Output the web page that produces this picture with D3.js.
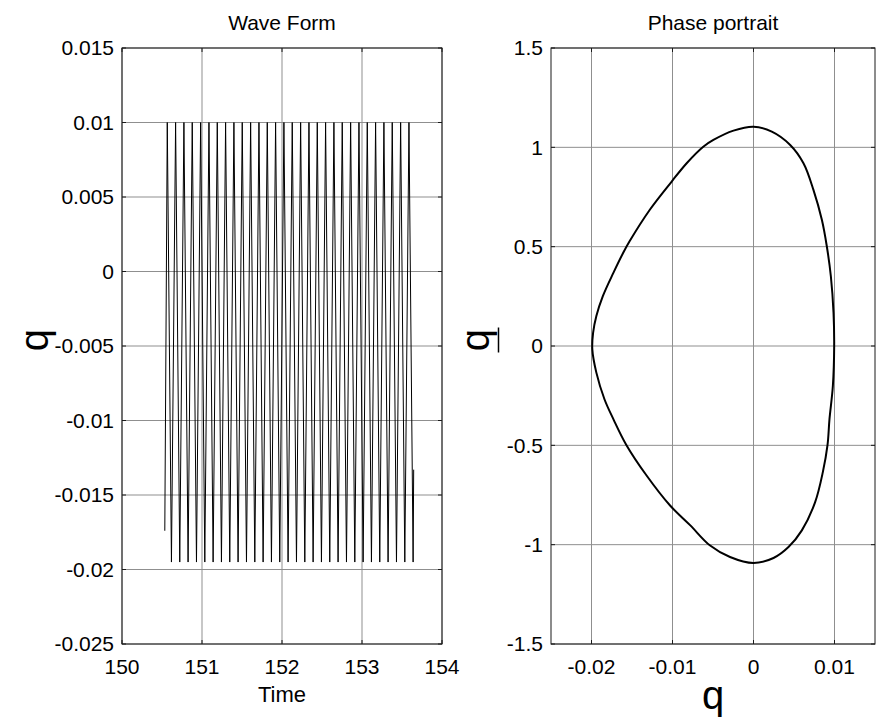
<!DOCTYPE html>
<html>
<head>
<meta charset="utf-8">
<script src="https://cdn.jsdelivr.net/npm/d3@7"></script>
<style>
  body { margin: 0; background: #fff; }
  svg { display: block; font-family: "Liberation Sans", Arial, Helvetica, sans-serif; }
</style>
</head>
<body>
<svg id="main-svg" width="884" height="725"></svg>
<script>
// ----- //
// data
// ----- //
// tick values
const waveTicksX = [150, 151, 152, 153, 154];
const waveTicksY = [0.015, 0.01, 0.005, 0, -0.005, -0.01, -0.015, -0.02, -0.025];
const phaseTicksX = [-0.02, -0.01, 0, 0.01];
const phaseTicksY = [1.5, 1, 0.5, 0, -0.5, -1, -1.5];

// wave form: times of the maxima / minima of q
const peakTimes = [150.566, 150.670, 150.774, 150.878, 150.983, 151.087, 151.191, 151.295, 151.399, 151.503,
                   151.608, 151.712, 151.816, 151.920, 152.024, 152.128, 152.233, 152.337, 152.441, 152.545,
                   152.649, 152.753, 152.858, 152.962, 153.066, 153.170, 153.274, 153.378, 153.483, 153.587];
const troughTimes = [150.618, 150.722, 150.826, 150.931, 151.035, 151.139, 151.243, 151.347, 151.451, 151.556,
                     151.660, 151.764, 151.868, 151.972, 152.076, 152.181, 152.285, 152.389, 152.493, 152.597,
                     152.701, 152.806, 152.910, 153.014, 153.118, 153.222, 153.326, 153.431, 153.535, 153.639];
const peakQ = 0.01;
const troughQ = -0.0195;
const waveStart = { t: 150.535, q: -0.0174 };
const waveEnd = { t: 153.646, q: -0.0133 };

// phase portrait (q, dq/dt), clockwise from the top
const phaseQ = [0, 0.00226, 0.00453, 0.00617, 0.0074, 0.00844, 0.00905, 0.00955, 0.00988, 0.00996,
                0.0098, 0.00938, 0.00914, 0.00856, 0.00761, 0.00597, 0.00432, 0.00247, 0,
                -0.0029, -0.0054, -0.0078, -0.0103, -0.0132, -0.0157, -0.0173, -0.0184, -0.0194, -0.0199,
                -0.0198, -0.0194, -0.0186, -0.0173, -0.0161, -0.0153, -0.0128, -0.0101, -0.00825, -0.0062,
                -0.00495, -0.00247];
const phaseQd = [1.104, 1.079, 1.012, 0.92, 0.786, 0.635, 0.502, 0.351, 0.167, 0,
                 -0.2, -0.368, -0.498, -0.635, -0.786, -0.928, -1.012, -1.067, -1.092,
                 -1.062, -1.003, -0.903, -0.803, -0.652, -0.498, -0.368, -0.268, -0.134, -0.017,
                 0.067, 0.151, 0.251, 0.368, 0.468, 0.527, 0.686, 0.828, 0.92, 1.003,
                 1.037, 1.084];

// ----- //
// layout
// ----- //
const plotTop = 48, plotBottom = 644;
const tickFont = 21;
const svg = d3.select("#main-svg");
svg.append("rect").attr("width", 884).attr("height", 725).attr("fill", "#fff");

// grid lines behind the data
function drawGrid(g, x, y, xTicks, yTicks) {
    const [x0, x1] = x.range();
    const [y0, y1] = y.range();
    const grid = g.append("g").attr("stroke", "#8f8f8f").attr("stroke-width", 1);
    xTicks.forEach(t => {
        grid.append("line").attr("x1", x(t)).attr("x2", x(t)).attr("y1", y0).attr("y2", y1);
    });
    yTicks.forEach(t => {
        grid.append("line").attr("x1", x0).attr("x2", x1).attr("y1", y(t)).attr("y2", y(t));
    });
}

// box, inward ticks on all sides and tick labels
function drawFrame(g, x, y, xTicks, yTicks) {
    const [x0, x1] = x.range();
    const [y0, y1] = y.range();
    const tick = 4;
    const fr = g.append("g").attr("stroke", "#1a1a1a").attr("stroke-width", 1).attr("fill", "none");
    fr.append("rect").attr("x", x0).attr("y", y1).attr("width", x1 - x0).attr("height", y0 - y1);
    xTicks.forEach(t => {
        fr.append("line").attr("x1", x(t)).attr("x2", x(t)).attr("y1", y0).attr("y2", y0 - tick);
        fr.append("line").attr("x1", x(t)).attr("x2", x(t)).attr("y1", y1).attr("y2", y1 + tick);
    });
    yTicks.forEach(t => {
        fr.append("line").attr("x1", x0).attr("x2", x0 + tick).attr("y1", y(t)).attr("y2", y(t));
        fr.append("line").attr("x1", x1).attr("x2", x1 - tick).attr("y1", y(t)).attr("y2", y(t));
    });
    g.selectAll(null).data(xTicks).enter().append("text")
        .attr("x", d => x(d)).attr("y", 674)
        .attr("text-anchor", "middle").attr("font-size", tickFont).attr("fill", "#000")
        .text(d => String(d));
    g.selectAll(null).data(yTicks).enter().append("text")
        .attr("x", x0 - 8).attr("y", d => y(d)).attr("dy", "0.35em")
        .attr("text-anchor", "end").attr("font-size", tickFont).attr("fill", "#000")
        .text(d => String(d));
}

// ----- //
// wave form panel
// ----- //
const xW = d3.scaleLinear().domain([150, 154]).range([122, 442]);
const yW = d3.scaleLinear().domain([-0.025, 0.015]).range([plotBottom, plotTop]);
const gW = svg.append("g");
drawGrid(gW, xW, yW, waveTicksX, waveTicksY);

// interleave maxima and minima into one polyline
const wavePts = [waveStart];
peakTimes.forEach((t, i) => {
    wavePts.push({ t: t, q: peakQ });
    wavePts.push({ t: troughTimes[i], q: troughQ });
});
wavePts.push(waveEnd);

gW.append("path")
    .datum(wavePts)
    .attr("fill", "none").attr("stroke", "#000").attr("stroke-width", 1)
    .attr("d", d3.line().x(d => xW(d.t)).y(d => yW(d.q)));

drawFrame(gW, xW, yW, waveTicksX, waveTicksY);

gW.append("text").attr("x", 282).attr("y", 30).attr("text-anchor", "middle")
    .attr("font-size", 21).text("Wave Form");
gW.append("text").attr("x", 282).attr("y", 702).attr("text-anchor", "middle")
    .attr("font-size", 22).text("Time");
gW.append("text").attr("transform", "translate(48,340) rotate(-90)")
    .attr("text-anchor", "middle").attr("font-size", 40).text("q");

// ----- //
// phase portrait panel
// ----- //
const xP = d3.scaleLinear().domain([-0.025, 0.015]).range([551, 875]);
const yP = d3.scaleLinear().domain([-1.5, 1.5]).range([plotBottom, plotTop]);
const gP = svg.append("g");
drawGrid(gP, xP, yP, phaseTicksX, phaseTicksY);

gP.append("path")
    .datum(d3.range(phaseQ.length))
    .attr("fill", "none").attr("stroke", "#000").attr("stroke-width", 2)
    .attr("d", d3.line().curve(d3.curveCatmullRomClosed.alpha(0.5))
        .x(i => xP(phaseQ[i])).y(i => yP(phaseQd[i])));

drawFrame(gP, xP, yP, phaseTicksX, phaseTicksY);

gP.append("text").attr("x", 713).attr("y", 30).attr("text-anchor", "middle")
    .attr("font-size", 21).text("Phase portrait");
gP.append("text").attr("x", 713).attr("y", 709).attr("text-anchor", "middle")
    .attr("font-size", 40).text("q");
const yl = gP.append("g").attr("transform", "translate(489,340) rotate(-90)");
yl.append("text").attr("text-anchor", "middle").attr("font-size", 40).text("q");
yl.append("line").attr("x1", -12.5).attr("x2", 12.5).attr("y1", 9.5).attr("y2", 9.5)
    .attr("stroke", "#000").attr("stroke-width", 1.5);
</script>
</body>
</html>
